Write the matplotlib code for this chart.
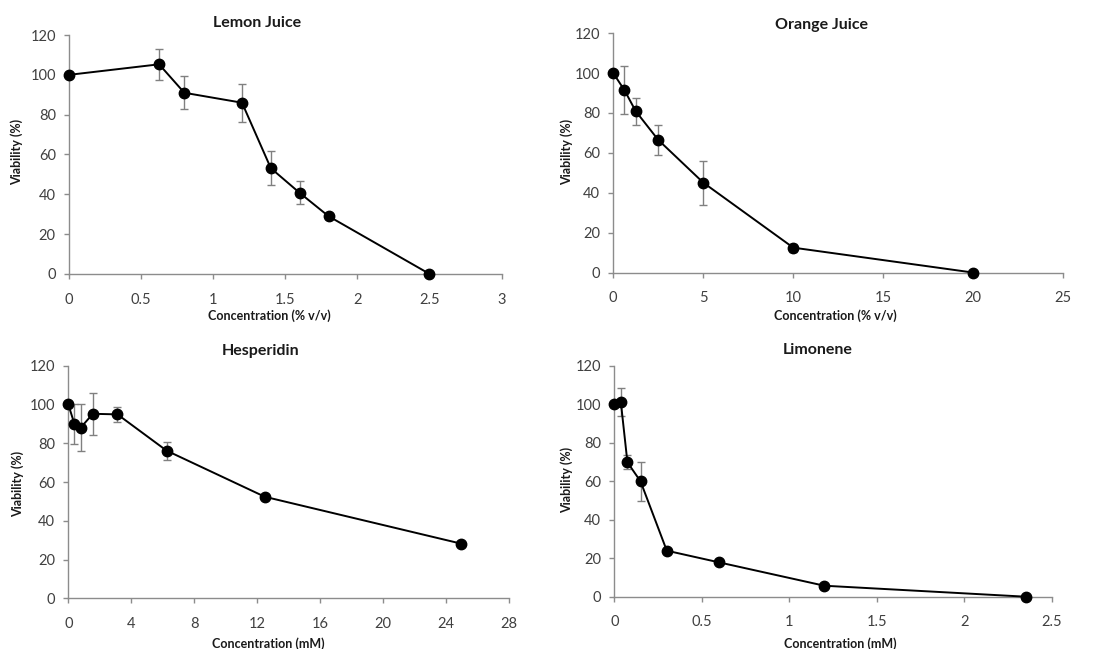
import matplotlib
matplotlib.use("Agg")
import matplotlib.pyplot as plt

plt.rcParams['font.family'] = ['Lato', 'DejaVu Sans']

# Lemon juice (% v/v)
lemon_x = [0, 0.625, 0.8, 1.2, 1.4, 1.6, 1.8, 2.5]
lemon_y = [100, 105.3, 91.0, 86.0, 53.1, 40.7, 29.0, 0]
lemon_err = [0, 7.7, 8.2, 9.6, 8.6, 5.8, 1.5, 0.5]

# Orange juice (% v/v)
orange_x = [0, 0.625, 1.25, 2.5, 5, 10, 20]
orange_y = [100, 91.4, 80.9, 66.5, 45.1, 12.5, 0]
orange_err = [0, 12.0, 6.8, 7.5, 11.0, 2.0, 0.5]

# Hesperidin (mM)
hesp_x = [0, 0.39, 0.78, 1.56, 3.125, 6.25, 12.5, 25]
hesp_y = [100, 89.9, 88.0, 95.2, 94.9, 76.2, 52.4, 28.2]
hesp_err = [0, 10.5, 12.0, 10.8, 3.9, 4.7, 1.0, 1.0]

# Limonene (mM)
limo_x = [0, 0.0375, 0.075, 0.15, 0.3, 0.6, 1.2, 2.35]
limo_y = [100, 101, 69.8, 59.9, 23.9, 17.8, 5.7, 0]
limo_err = [0, 7.4, 3.7, 10.0, 1.0, 1.0, 0.5, 0.5]

panels = [
    # title, x, y, err, xticks, xlabel, rect, title pos, ylabel pos, xlabel pos
    ("Lemon Juice", lemon_x, lemon_y, lemon_err, [0, 0.5, 1, 1.5, 2, 2.5, 3],
     ["0", "0.5", "1", "1.5", "2", "2.5", "3"], "Concentration (% v/v)",
     [0.063, 0.578, 0.395, 0.368], (0.435, 1.05), (-0.121, 0.51), (0.464, -0.176)),
    ("Orange Juice", orange_x, orange_y, orange_err, [0, 5, 10, 15, 20, 25],
     ["0", "5", "10", "15", "20", "25"], "Concentration (% v/v)",
     [0.560, 0.580, 0.411, 0.369], (0.463, 1.035), (-0.104, 0.505), (0.493, -0.181)),
    ("Hesperidin", hesp_x, hesp_y, hesp_err, [0, 4, 8, 12, 16, 20, 24, 28],
     ["0", "4", "8", "12", "16", "20", "24", "28"], "Concentration (mM)",
     [0.0624, 0.078, 0.402, 0.3585], (0.436, 1.065), (-0.114, 0.494), (0.455, -0.193)),
    ("Limonene", limo_x, limo_y, limo_err, [0, 0.5, 1, 1.5, 2, 2.5],
     ["0", "0.5", "1", "1.5", "2", "2.5"], "Concentration (mM)",
     [0.561, 0.0806, 0.3995, 0.356], (0.466, 1.068), (-0.109, 0.505), (0.516, -0.202)),
]

spine_color = "#8c8c8c"
text_color = "#404040"

fig = plt.figure(figsize=(10.95, 6.49), dpi=100)

for title, xs, ys, errs, xticks, xticklabels, xlabel, rect, tpos, ypos, xpos in panels:
    ax = fig.add_axes(rect)
    ax.errorbar(xs, ys, yerr=errs, fmt='none', ecolor="#808080", elinewidth=1.0,
                capsize=3, capthick=1.0, zorder=2)
    ax.plot(xs, ys, color="black", lw=1.4, marker='o', markersize=7.5,
            markerfacecolor="black", markeredgecolor="black", zorder=3, clip_on=False)
    ax.set_xlim(xticks[0], xticks[-1])
    ax.set_ylim(0, 120)
    ax.set_xticks(xticks)
    ax.set_xticklabels(xticklabels)
    ax.set_yticks(range(0, 121, 20))
    for s in ["top", "right"]:
        ax.spines[s].set_visible(False)
    for s in ["left", "bottom"]:
        ax.spines[s].set_color(spine_color)
        ax.spines[s].set_linewidth(1.0)
    ax.tick_params(axis='x', direction='out', length=3.5, width=1.0, color=spine_color,
                   labelcolor=text_color, labelsize=10.5, pad=10)
    ax.tick_params(axis='y', direction='out', length=3.5, width=1.0, color=spine_color,
                   labelcolor=text_color, labelsize=10.5, pad=6)
    ax.text(tpos[0], tpos[1], title, transform=ax.transAxes, ha='center', va='center',
            fontsize=11.5, fontweight='bold', color="#1a1a1a")
    ax.text(ypos[0], ypos[1], "Viability (%)", transform=ax.transAxes, ha='center',
            va='center', rotation=90, fontsize=9, fontweight='bold', color="#1a1a1a")
    ax.text(xpos[0], xpos[1], xlabel, transform=ax.transAxes, ha='center', va='center',
            fontsize=9, fontweight='bold', color="#1a1a1a")

fig.savefig("out.png", dpi=100)
